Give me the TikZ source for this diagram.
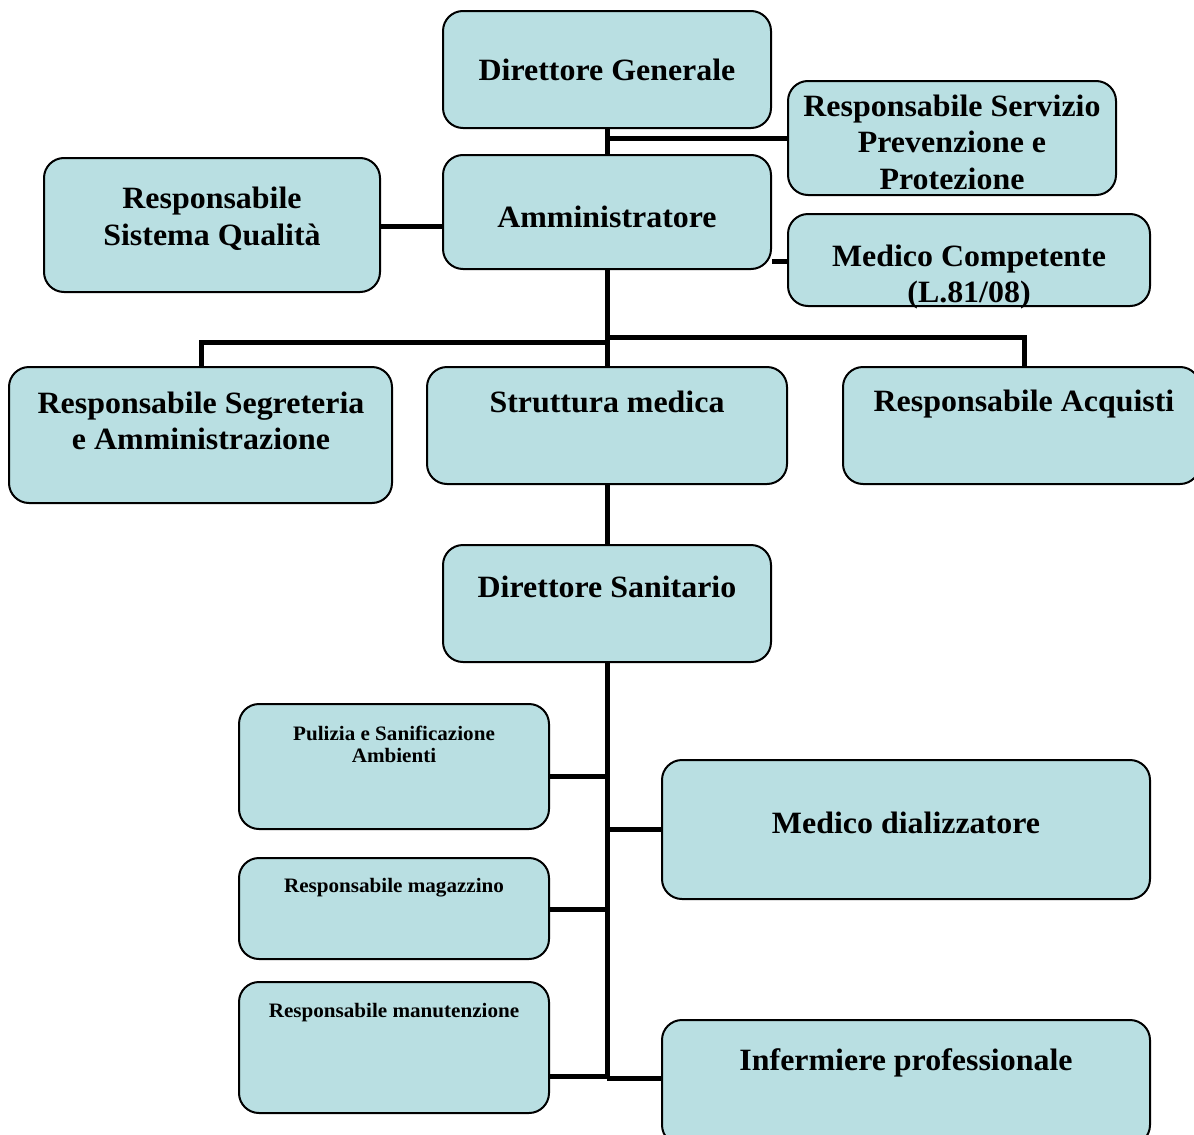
\documentclass[tikz,border=0pt]{standalone}
\usepackage{fontspec}
\setmainfont[FakeStretch=1.03]{Liberation Serif}
\definecolor{boxfill}{RGB}{185,223,226}
\tikzset{
  orgbox/.style={draw=black, line width=2pt, fill=boxfill, rounded corners=20pt, inner sep=0pt},
  bigtxt/.style={anchor=base, inner sep=0pt, font=\fontsize{31}{36}\selectfont\bfseries},
  smalltxt/.style={anchor=base, inner sep=0pt, font=\fontsize{20.5}{24}\selectfont\bfseries},
  link/.style={draw=black, line width=5pt}
}
\newcommand{\obox}[5]{% name, x1, y1, x2, y2
  \node[orgbox, minimum width={(#4-#2)*1pt}, minimum height={(#5-#3)*1pt}] (#1) at ({(#2+#4)/2},{(#3+#5)/2}) {};}
\begin{document}
\begin{tikzpicture}[x=1pt, y=-1pt]
\useasboundingbox (0,0) rectangle (1194,1135);
\clip (0,0) rectangle (1194,1135);
\fill[white] (0,0) rectangle (1194,1135);

% connector points
\coordinate (segcorner) at (201,342);
\coordinate (acqcorner) at (1024,337);
\coordinate (spine) at (607,342);
\coordinate (sanend) at (607,1078);

% boxes
\obox{dg}{443}{11}{771}{128}
\obox{rspp}{788}{81}{1116}{195}
\obox{amm}{443}{155}{771}{269}
\obox{mc}{788}{214}{1150}{306}
\obox{rsq}{44}{158}{380}{292}
\obox{seg}{9}{367}{392}{503}
\obox{str}{427}{367}{787}{484}
\obox{acq}{843}{367}{1200}{484}
\obox{ds}{443}{545}{771}{662}
\obox{pul}{239}{704}{549}{829}
\obox{mag}{239}{858}{549}{959}
\obox{man}{239}{982}{549}{1113}
\obox{md}{662}{760}{1150}{899}
\obox{inf}{662}{1020}{1150}{1145}

% links
\draw[link] (dg.south) -- (amm.north);
\draw[link] (dg.south |- 0,138) -- (rspp.west |- 0,138);
\draw[link] (amm.east |- 0,261) -- (mc.west |- 0,261);
\draw[link] (rsq.east |- 0,226) -- (amm.west |- 0,226);
\draw[link] (amm.south) -- (str.north);
\draw[link] (spine) -- (segcorner) -- (seg.north -| segcorner);
\draw[link] (amm.south |- acqcorner) -- (acqcorner) -- (acq.north -| acqcorner);
\draw[link] (str.south) -- (ds.north);
\draw[link] (ds.south) -- (sanend);
\draw[link] (pul.east |- 0,776) -- (ds.south |- 0,776);
\draw[link] (mag.east |- 0,909) -- (ds.south |- 0,909);
\draw[link] (man.east |- 0,1076) -- (ds.south |- 0,1076);
\draw[link] (ds.south |- 0,829) -- (md.west |- 0,829);
\draw[link] (sanend) -- (inf.west |- sanend);

% texts
\node[bigtxt] (tdg) at (607,80) {Direttore Generale};
\node[bigtxt] (trspp1) at (952,116) {Responsabile Servizio};
\node[bigtxt] (trspp2) at (952,152) {Prevenzione e};
\node[bigtxt] (trspp3) at (952,189) {Protezione};
\node[bigtxt] (tamm) at (607,227) {Amministratore};
\node[bigtxt] (tmc1) at (969,266) {Medico Competente};
\node[bigtxt] (tmc2) at (969,302) {(L.81/08)};
\node[bigtxt] (trsq1) at (212,208) {Responsabile};
\node[bigtxt] (trsq2) at (212,245) {Sistema Qualità};
\node[bigtxt] (tseg1) at (201,413) {Responsabile Segreteria};
\node[bigtxt] (tseg2) at (201,449) {e Amministrazione};
\node[bigtxt] (tstr) at (607,412) {Struttura medica};
\node[bigtxt] (tacq) at (1024,411) {Responsabile Acquisti};
\node[bigtxt] (tds) at (607,597) {Direttore Sanitario};
\node[smalltxt] (tpul1) at (394,740) {Pulizia e Sanificazione};
\node[smalltxt] (tpul2) at (394,762) {Ambienti};
\node[smalltxt] (tmag) at (394,892) {Responsabile magazzino};
\node[smalltxt] (tman) at (394,1017) {Responsabile manutenzione};
\node[bigtxt] (tmd) at (906,833) {Medico dializzatore};
\node[bigtxt] (tinf) at (906,1070) {Infermiere professionale};
\end{tikzpicture}
\end{document}
